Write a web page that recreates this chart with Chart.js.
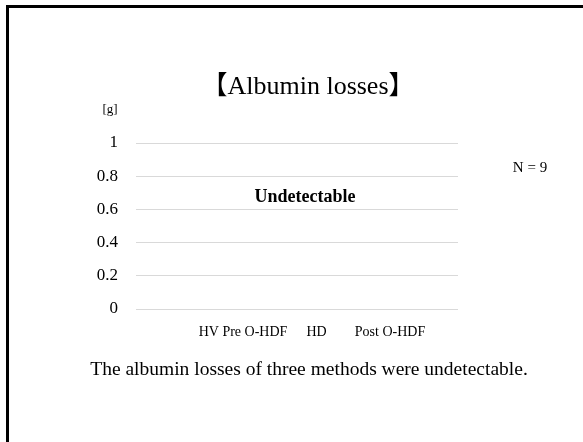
<!DOCTYPE html>
<html lang="en">
<head>
    <meta charset="UTF-8">
    <title>Albumin losses</title>
    <style>
        body { margin: 0; background: #fff; }
        .slide { position: relative; width: 583px; height: 442px; overflow: hidden; background: #fff; }
        /* slide frame: only top and left edges are visible in the crop */
        .frame {
            position: absolute; left: 6px; top: 5px; width: 700px; height: 600px;
            border-top: 3px solid #000; border-left: 3px solid #000;
        }
        canvas { position: absolute; left: 0; top: 0; }
    </style>
    <script src="https://cdn.jsdelivr.net/npm/chart.js"></script>
</head>
<body>
    <div class="slide">
        <div class="frame"></div>
        <canvas id="albuminChart" width="583" height="442"></canvas>
    </div>

    <script>
        // Data: all three methods were below the detection limit
        var methods = ['HV Pre O-HDF', 'HD', 'Post O-HDF'];
        var albuminLoss = [null, null, null];   // [g], undetectable
        var yTicks = [0, 0.2, 0.4, 0.6, 0.8, 1];

        var serif = "'Liberation Serif', 'Times New Roman', 'Noto Sans CJK JP', serif";

        // Texts of the slide drawn on top of the chart
        const slideTextPlugin = {
            id: 'slideText',
            afterDraw: function(chart) {
                const ctx = chart.ctx;
                const area = chart.chartArea;
                const y = chart.scales.y;
                ctx.save();
                ctx.fillStyle = '#000';
                ctx.textAlign = 'center';
                ctx.textBaseline = 'alphabetic';

                ctx.font = '26px ' + serif;
                ctx.fillText('【Albumin losses】', 308, 94);

                ctx.font = '13px ' + serif;
                ctx.fillText('[g]', 110, 113);

                ctx.font = '15px ' + serif;
                ctx.fillText('N = 9', 530, 172);

                ctx.font = 'bold 18px ' + serif;
                ctx.textBaseline = 'middle';
                ctx.fillText('Undetectable', (area.left + area.right) / 2 + 8, y.getPixelForValue(0.67));

                ctx.font = '19.5px ' + serif;
                ctx.fillText('The albumin losses of three methods were undetectable.', 309, 370);
                ctx.restore();
            }
        };

        var data = {
            datasets: [{
                label: 'Albumin losses',
                data: albuminLoss.map(function(v, i) { return { x: i + 1, y: v }; }),
                backgroundColor: '#4472c4'
            }]
        };

        var options = {
            responsive: false,
            animation: false,
            layout: { padding: { left: 0, right: 125, top: 143, bottom: 73 } },
            plugins: {
                legend: { display: false },
                tooltip: { enabled: false }
            },
            scales: {
                x: {
                    type: 'linear',
                    offset: false,
                    min: -0.456,
                    max: 3.925,
                    grid: { display: false, drawTicks: false },
                    border: { display: false },
                    afterBuildTicks: function(s) {
                        s.ticks = methods.map(function(m, i) { return { value: i + 1 }; });
                    },
                    afterFit: function(s) { s.height = 60; },
                    ticks: {
                        padding: 15,
                        color: '#000',
                        maxRotation: 0,
                        autoSkip: false,
                        font: { family: serif, size: 14 },
                        callback: function(v) { return methods[v - 1]; }
                    }
                },
                y: {
                    min: 0,
                    max: 1,
                    grid: { color: '#d9d9d9', drawTicks: false },
                    border: { display: false },
                    afterBuildTicks: function(s) {
                        s.ticks = yTicks.map(function(v) { return { value: v }; });
                    },
                    afterFit: function(s) { s.width = 136; },
                    ticks: {
                        padding: 18,
                        color: '#000',
                        font: { family: serif, size: 17 },
                        callback: function(v) { return String(Number(v.toFixed(1))); }
                    }
                }
            }
        };

        new Chart(document.getElementById('albuminChart').getContext('2d'), {
            type: 'bar',
            data: data,
            options: options,
            plugins: [slideTextPlugin]
        });
    </script>
</body>
</html>
